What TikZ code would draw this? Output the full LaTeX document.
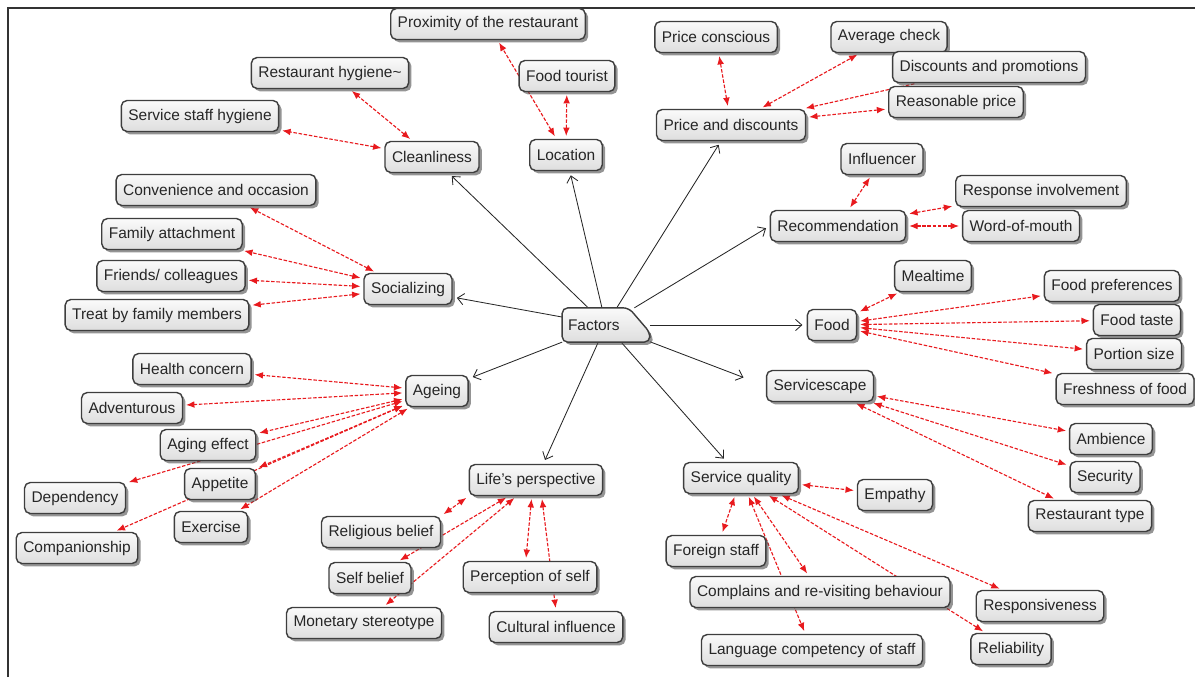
\documentclass[tikz,border=0pt]{standalone}
\usepackage{fontspec}
\setmainfont{Liberation Sans}
\usetikzlibrary{arrows.meta,shadows,backgrounds}
\definecolor{linkred}{RGB}{232,26,30}
\definecolor{boxline}{RGB}{62,62,62}
\tikzset{
	factor/.style={draw=boxline, line width=1pt, rounded corners=4pt, top color=black!2, bottom color=black!13, text=black!85, font=\fontsize{11}{13}\selectfont, inner xsep=5pt, minimum height=22pt, drop shadow={shadow xshift=2pt, shadow yshift=-2pt, opacity=0.6, fill=black!70}},
	hub/.style={text=black!85, font=\fontsize{11}{13}\selectfont, inner xsep=4pt, text width=54pt, minimum height=24pt},
	main/.style={-{Straight Barb[length=4.5pt,width=8pt]}, line width=0.6pt, black!85, shorten >=3pt},
	link/.style={{Latex[length=6pt,width=4.8pt]}-{Latex[length=6pt,width=4.8pt]}, linkred, line width=0.8pt, dash pattern=on 2.5pt off 1.2pt, shorten >=2pt, shorten <=2pt},
	halflink/.style={link, -{Latex[length=6pt,width=4.8pt]}}
}

\begin{document}
\begin{tikzpicture}[x=0.025cm, y=-0.025cm]
	%%%%% START %%%%%
	\useasboundingbox (0,0) rectangle (1195,677);
	\draw[line width=1.5pt, black!80] (8,677) -- (8,8) -- (1195,8);
	
	\node[hub] (fac) at (606,325) {Factors};
	
	% cleanliness and location
	\node[factor] (prox) at (488,24) {Proximity of the restaurant};
	\node[factor] (rhyg) at (330,73) {Restaurant hygiene\textasciitilde};
	\node[factor] (shyg) at (200,116) {Service staff hygiene};
	\node[factor] (clean) at (432,157) {Cleanliness};
	\node[factor] (ftour) at (567,76) {Food tourist};
	\node[factor] (loc) at (566,155) {Location};
	
	% price
	\node[factor] (pcon) at (716,37) {Price conscious};
	\node[factor] (price) at (731,125) {Price and discounts};
	\node[factor] (avg) at (889,37) {Average check};
	\node[factor] (disc) at (989,67) {Discounts and promotions};
	\node[factor] (reas) at (956,102) {Reasonable price};
	
	% recommendation
	\node[factor] (infl) at (882,159) {Influencer};
	\node[factor] (rec) at (838,226) {Recommendation};
	\node[factor] (rinv) at (1041,191) {Response involvement};
	\node[factor] (wom) at (1021,226) {Word-of-mouth};
	
	% food
	\node[factor] (meal) at (933,276) {Mealtime};
	\node[factor] (fpref) at (1112,286) {Food preferences};
	\node[factor] (food) at (832,325) {Food};
	\node[factor] (ftaste) at (1137,320) {Food taste};
	\node[factor] (port) at (1134,354) {Portion size};
	\node[factor] (fresh) at (1125,389) {Freshness of food};
	
	% servicescape
	\node[factor] (scape) at (820,386) {Servicescape};
	\node[factor] (amb) at (1111,439) {Ambience};
	\node[factor] (sec) at (1105,477) {Security};
	\node[factor] (rtype) at (1090,516) {Restaurant type};
	
	% service quality
	\node[factor] (sq) at (741,478) {Service quality};
	\node[factor] (emp) at (895,495) {Empathy};
	\node[factor] (fstaff) at (716,551) {Foreign staff};
	\node[factor] (compl) at (820,592) {Complains and re-visiting behaviour};
	\node[factor] (lang) at (812,650) {Language competency of staff};
	\node[factor] (resp) at (1040,606) {Responsiveness};
	\node[factor] (relia) at (1011,649) {Reliability};
	
	% life's perspective
	\node[factor] (lp) at (536,480) {Life's perspective};
	\node[factor] (relb) at (381,532) {Religious belief};
	\node[factor] (selfb) at (370,578) {Self belief};
	\node[factor] (mon) at (364,623) {Monetary stereotype};
	\node[factor] (perc) at (530,577) {Perception of self};
	\node[factor] (cult) at (556,627) {Cultural influence};
	
	% ageing
	\node[factor] (age) at (437,391) {Ageing};
	\node[factor] (hc) at (192,369) {Health concern};
	\node[factor] (adv) at (132,408) {Adventurous};
	\node[factor] (aeff) at (208,445) {Aging effect};
	\node[factor] (app) at (220,484) {Appetite};
	\node[factor] (dep) at (75,498) {Dependency};
	\node[factor] (ex) at (211,527) {Exercise};
	\node[factor] (compan) at (77,548) {Companionship};
	
	% socializing
	\node[factor] (conv) at (216,190) {Convenience and occasion};
	\node[factor] (fam) at (172,234) {Family attachment};
	\node[factor] (friends) at (171,276) {Friends/ colleagues};
	\node[factor] (treat) at (157,315) {Treat by family members};
	\node[factor] (soc) at (408,289) {Socializing};
	
	\begin{pgfonlayer}{background}
		\draw[main] (fac) -- (clean);
		\draw[main] (fac) -- (loc);
		\draw[main] (fac) -- (price);
		\draw[main] (fac) -- (rec.west);
		\draw[main] (fac) -- (food);
		\draw[main, shorten >=17pt] (fac) -- (scape.west);
		\draw[main] (fac) -- (sq);
		\draw[main] (fac) -- (lp);
		\draw[main] (fac) -- (age);
		\draw[main] (fac) -- (soc);
		
		\draw[link] (clean) -- (rhyg);
		\draw[link] (clean) -- (shyg);
		\draw[link] (loc) -- (prox);
		\draw[link] (loc) -- (ftour);
		
		\draw[link] (price) -- (pcon);
		\draw[link] (price) -- (avg);
		\draw[halflink] (disc) -- (price);
		\draw[link] (price) -- (reas);
		
		\draw[link] (rec) -- (infl);
		\draw[link] (rec) -- (rinv);
		\draw[link] (rec) -- (wom);
		
		\draw[link] (food) -- (meal);
		\draw[link] (food) -- (fpref);
		\draw[link] (food) -- (ftaste);
		\draw[link] (food) -- (port);
		\draw[link] (food) -- (fresh);
		
		\draw[link] (scape) -- (amb);
		\draw[link] (scape) -- (sec);
		\draw[link] (scape) -- (rtype);
		
		\draw[link] (sq) -- (emp);
		\draw[link] (sq) -- (fstaff);
		\draw[link] (sq) -- (compl);
		\draw[link] (sq) -- (lang);
		\draw[link] (sq) -- (resp);
		\draw[link] (sq) -- (relia);
		
		\draw[link] (lp.south west) -- (relb.north east);
		\draw[link] (lp) -- (selfb);
		\draw[link] (lp) -- (mon);
		\draw[link] ([xshift=-3pt]lp.south) -- ([xshift=-3pt]perc.north);
		\draw[link] ([xshift=4pt]lp.south) -- (cult.north);
		
		\draw[link] (age) -- (hc);
		\draw[link] (age) -- (adv);
		\draw[link] (age) -- (aeff);
		\draw[link] (age) -- (dep);
		\draw[link] (age) -- (app);
		\draw[link] (age) -- (ex);
		\draw[link] (age) -- (compan);
		
		\draw[link] (soc) -- (conv);
		\draw[link] (soc) -- (fam);
		\draw[link] (soc) -- (friends);
		\draw[link] (soc) -- (treat);
		
		\path[factor] (fac.south west) -- (fac.north west) -- ([xshift=-15pt]fac.north east) -- ([yshift=-17.5pt]fac.north east) -- (fac.south east) -- cycle;
	\end{pgfonlayer}
	%%%%% END %%%%%
\end{tikzpicture}
\end{document}
